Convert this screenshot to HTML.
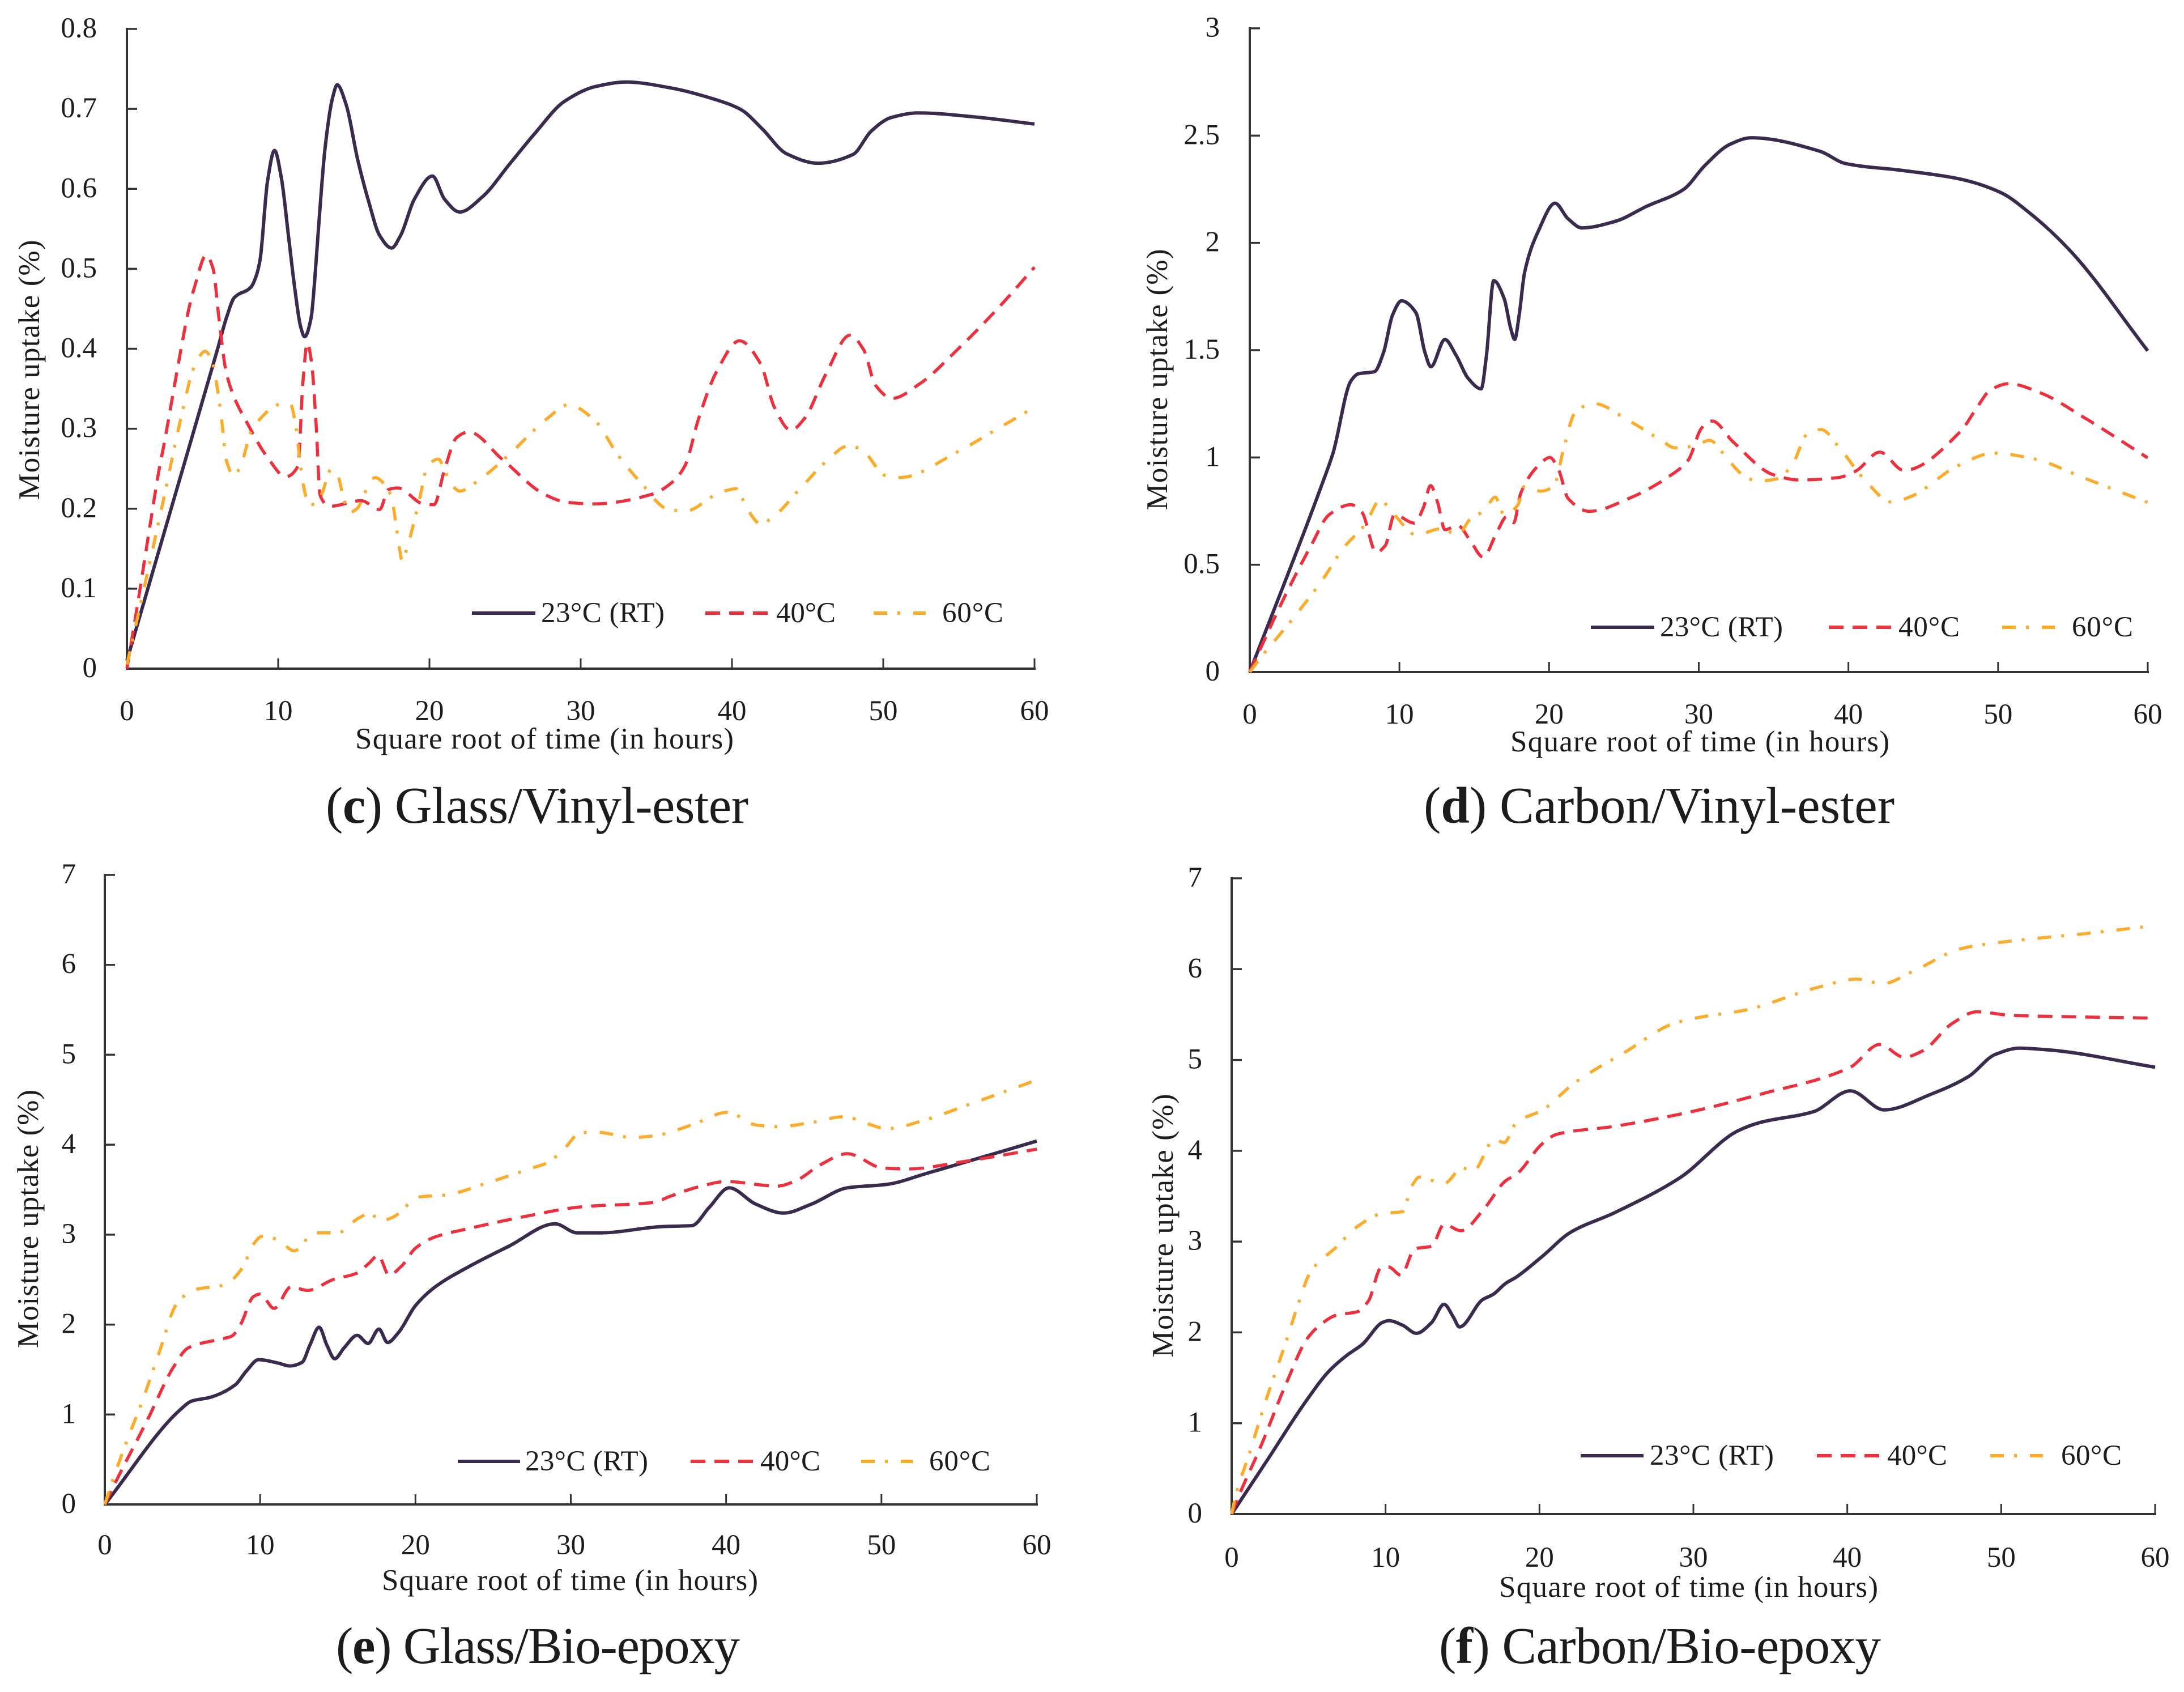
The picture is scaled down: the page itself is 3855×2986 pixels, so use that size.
<!DOCTYPE html>
<html>
<head>
<meta charset="utf-8">
<title>Moisture uptake charts</title>
<style>
html,body{margin:0;padding:0;background:#fff;}
svg{display:block;}
text{font-family:"Liberation Serif",serif;fill:#1c1c1c;}
.tick{font-size:51px;}
.axis-title{font-size:53px;}
.legend-text{font-size:51px;}
.caption{font-size:91px;}
</style>
</head>
<body>
<svg id="figure" xmlns="http://www.w3.org/2000/svg" width="3855" height="2986" viewBox="0 0 3855 2986">
<rect x="0" y="0" width="3855" height="2986" fill="#ffffff"/>

<g id="panel-c"></g>
<g id="panel-d"></g>
<g id="panel-e"></g>
<g id="panel-f"></g>

<text class="axis-title" transform="translate(69,653) rotate(-90)" text-anchor="middle" textLength="459" lengthAdjust="spacing">Moisture uptake (%)</text>
<text class="axis-title" transform="translate(2060,670) rotate(-90)" text-anchor="middle" textLength="461" lengthAdjust="spacing">Moisture uptake (%)</text>
<text class="axis-title" transform="translate(67,2151) rotate(-90)" text-anchor="middle" textLength="456" lengthAdjust="spacing">Moisture uptake (%)</text>
<text class="axis-title" transform="translate(2070,2163) rotate(-90)" text-anchor="middle" textLength="465" lengthAdjust="spacing">Moisture uptake (%)</text>

<text class="axis-title" x="627" y="1321" textLength="668" lengthAdjust="spacing">Square root of time (in hours)</text>
<text class="axis-title" x="2666" y="1326" textLength="669" lengthAdjust="spacing">Square root of time (in hours)</text>
<text class="axis-title" x="674" y="2806" textLength="664" lengthAdjust="spacing">Square root of time (in hours)</text>
<text class="axis-title" x="2646" y="2818" textLength="669" lengthAdjust="spacing">Square root of time (in hours)</text>

<text class="caption" x="575" y="1452" textLength="746" lengthAdjust="spacing">(<tspan font-weight="bold">c</tspan>) Glass/Vinyl-ester</text>
<text class="caption" x="2513" y="1452" textLength="831" lengthAdjust="spacing">(<tspan font-weight="bold">d</tspan>) Carbon/Vinyl-ester</text>
<text class="caption" x="593" y="2935" textLength="713" lengthAdjust="spacing">(<tspan font-weight="bold">e</tspan>) Glass/Bio-epoxy</text>
<text class="caption" x="2540" y="2935" textLength="780" lengthAdjust="spacing">(<tspan font-weight="bold">f</tspan>) Carbon/Bio-epoxy</text>

<g>
<line x1="833" x2="945" y1="1082" y2="1082" stroke="#3a2a4d" stroke-width="6"/>
<text class="legend-text" x="955" y="1098" textLength="218" lengthAdjust="spacing">23°C (RT)</text>
<line x1="1245" x2="1355" y1="1082" y2="1082" stroke="#ee2f3e" stroke-width="6" stroke-dasharray="26 16"/>
<text class="legend-text" x="1370" y="1098" textLength="105" lengthAdjust="spacing">40°C</text>
<line x1="1542" x2="1634" y1="1082" y2="1082" stroke="#fdab2b" stroke-width="6" stroke-dasharray="24 18 5 23"/>
<text class="legend-text" x="1663" y="1098" textLength="108" lengthAdjust="spacing">60°C</text>
</g>
<g>
<line x1="2808" x2="2920" y1="1107" y2="1107" stroke="#3a2a4d" stroke-width="6"/>
<text class="legend-text" x="2930" y="1123" textLength="217" lengthAdjust="spacing">23°C (RT)</text>
<line x1="3228" x2="3338" y1="1107" y2="1107" stroke="#ee2f3e" stroke-width="6" stroke-dasharray="26 16"/>
<text class="legend-text" x="3351" y="1123" textLength="108" lengthAdjust="spacing">40°C</text>
<line x1="3534" x2="3627" y1="1107" y2="1107" stroke="#fdab2b" stroke-width="6" stroke-dasharray="24 18 5 23"/>
<text class="legend-text" x="3657" y="1123" textLength="108" lengthAdjust="spacing">60°C</text>
</g>
<g>
<line x1="808" x2="918" y1="2579" y2="2579" stroke="#3a2a4d" stroke-width="6"/>
<text class="legend-text" x="927" y="2595" textLength="217" lengthAdjust="spacing">23°C (RT)</text>
<line x1="1219" x2="1329" y1="2579" y2="2579" stroke="#ee2f3e" stroke-width="6" stroke-dasharray="26 16"/>
<text class="legend-text" x="1342" y="2595" textLength="106" lengthAdjust="spacing">40°C</text>
<line x1="1520" x2="1611" y1="2579" y2="2579" stroke="#fdab2b" stroke-width="6" stroke-dasharray="24 18 5 23"/>
<text class="legend-text" x="1640" y="2595" textLength="108" lengthAdjust="spacing">60°C</text>
</g>
<g>
<line x1="2790" x2="2901" y1="2569" y2="2569" stroke="#3a2a4d" stroke-width="6"/>
<text class="legend-text" x="2912" y="2585" textLength="219" lengthAdjust="spacing">23°C (RT)</text>
<line x1="3207" x2="3319" y1="2569" y2="2569" stroke="#ee2f3e" stroke-width="6" stroke-dasharray="26 16"/>
<text class="legend-text" x="3331" y="2585" textLength="106" lengthAdjust="spacing">40°C</text>
<line x1="3513" x2="3606" y1="2569" y2="2569" stroke="#fdab2b" stroke-width="6" stroke-dasharray="24 18 5 23"/>
<text class="legend-text" x="3638" y="2585" textLength="107" lengthAdjust="spacing">60°C</text>
</g>
</svg>

<script>
// Shared x tick labels
var xTickValues = [0, 10, 20, 30, 40, 50, 60];

// Panel c: Glass/Vinyl-ester
var cYTicks = [0, 0.1, 0.2, 0.3, 0.4, 0.5, 0.6, 0.7, 0.8];
var cRtX = [0, 3, 6, 6.6, 7.1, 8.2, 8.58, 8.8, 9.3, 9.76, 10.2, 10.7, 11.1, 11.48, 11.75, 12.18, 12.4, 12.65, 13.1, 13.6, 13.9, 14.5, 15.25, 16, 16.7, 17.5, 18.1, 19, 20.2, 21, 22, 23.5, 25.3, 27, 28.9, 31, 33, 36, 38.5, 40.6, 42, 43.6, 45.7, 48, 49.2, 50.5, 52.3, 56, 60];
var cRtY = [0.01, 0.205, 0.4, 0.44, 0.464, 0.477, 0.493, 0.511, 0.61, 0.648, 0.615, 0.538, 0.475, 0.428, 0.415, 0.439, 0.482, 0.547, 0.651, 0.714, 0.73, 0.705, 0.637, 0.583, 0.542, 0.526, 0.542, 0.587, 0.616, 0.587, 0.571, 0.59, 0.631, 0.67, 0.709, 0.728, 0.7335, 0.726, 0.714, 0.699, 0.675, 0.644, 0.632, 0.643, 0.672, 0.689, 0.695, 0.69, 0.681];
var c40X = [0, 0.77, 1.61, 2.1, 2.44, 2.96, 3.53, 4.13, 4.5, 5.24, 5.7, 6.08, 6.56, 7.1, 7.87, 9.3, 10.5, 11.3, 11.65, 11.93, 12.2, 12.5, 12.77, 13.4, 15.5, 16.7, 17.3, 17.9, 19.6, 20.3, 21, 21.8, 22.6, 24.8, 27.7, 29.1, 30.9, 34.7, 36.1, 36.9, 37.8, 39, 40.5, 41.9, 42.8, 43.9, 44.8, 46.2, 47.8, 48.7, 49.5, 50.6, 52.4, 54.8, 57.7, 60];
var c40Y = [0, 0.088, 0.189, 0.246, 0.279, 0.334, 0.395, 0.453, 0.479, 0.517, 0.5, 0.439, 0.371, 0.339, 0.31, 0.264, 0.24, 0.253, 0.362, 0.407, 0.384, 0.308, 0.217, 0.203, 0.21, 0.199, 0.224, 0.226, 0.206, 0.205, 0.249, 0.289, 0.296, 0.262, 0.217, 0.208, 0.206, 0.218, 0.234, 0.254, 0.313, 0.372, 0.41, 0.381, 0.327, 0.298, 0.313, 0.368, 0.417, 0.399, 0.354, 0.338, 0.356, 0.397, 0.453, 0.502];
var c60X = [0, 1.2, 2.44, 3.53, 4.47, 5.18, 5.63, 5.97, 6.3, 6.57, 7.06, 7.47, 8.22, 8.74, 10, 10.8, 11.15, 11.4, 11.67, 12, 12.5, 12.9, 13.5, 13.9, 14.3, 14.7, 15.2, 16, 16.4, 17.1, 17.5, 17.9, 18.2, 18.5, 18.95, 19.3, 19.9, 20.6, 21, 21.4, 22, 23, 24.1, 25.4, 27.8, 29.2, 30.9, 32.5, 34, 35.7, 36.9, 39.3, 40.3, 41, 41.9, 42.8, 44.5, 46.4, 47.6, 48.4, 50.2, 51.1, 54.9, 57.2, 60];
var c60Y = [0.005, 0.106, 0.213, 0.31, 0.378, 0.397, 0.384, 0.352, 0.305, 0.261, 0.242, 0.251, 0.297, 0.311, 0.33, 0.331, 0.305, 0.266, 0.229, 0.207, 0.205, 0.219, 0.249, 0.244, 0.215, 0.195, 0.2, 0.23, 0.239, 0.229, 0.213, 0.166, 0.135, 0.15, 0.181, 0.208, 0.254, 0.262, 0.248, 0.232, 0.222, 0.232, 0.248, 0.27, 0.313, 0.33, 0.311, 0.266, 0.232, 0.2, 0.197, 0.221, 0.225, 0.2, 0.181, 0.191, 0.225, 0.262, 0.278, 0.276, 0.241, 0.239, 0.271, 0.296, 0.327];

// Panel d: Carbon/Vinyl-ester
var dYTicks = [0, 0.5, 1, 1.5, 2, 2.5, 3];
var dRtX = [0, 4.83, 5.56, 6.76, 7.25, 8.33, 8.94, 9.54, 10.14, 11.1, 11.7, 12.1, 13.04, 13.77, 14.6, 15.46, 15.8, 16.3, 17, 17.44, 17.7, 18, 18.36, 19.3, 20.4, 21.26, 22.2, 24.4, 26.5, 29, 30.4, 32.1, 33.5, 38.1, 39.8, 43.7, 47.3, 50.2, 52.1, 54.8, 60];
var dRtY = [0, 0.876, 1.02, 1.357, 1.39, 1.4, 1.49, 1.664, 1.73, 1.675, 1.49, 1.423, 1.55, 1.478, 1.368, 1.32, 1.467, 1.824, 1.74, 1.6, 1.55, 1.664, 1.861, 2.058, 2.185, 2.113, 2.07, 2.1, 2.17, 2.25, 2.36, 2.46, 2.49, 2.427, 2.37, 2.337, 2.3, 2.234, 2.14, 1.965, 1.497];
var d40X = [0, 2.17, 4.1, 5.3, 6.76, 7.49, 8.45, 9.06, 9.66, 11, 11.6, 12.08, 12.56, 13.04, 13.9, 14.73, 15.58, 16.55, 17.15, 17.63, 18.1, 19.3, 20.05, 20.65, 21.26, 22.7, 25.36, 28, 29.3, 30.2, 30.9, 32.3, 35, 36.7, 39.3, 40.5, 42.1, 43.7, 47.5, 48.5, 49.5, 50.7, 52.9, 55.7, 60];
var d40Y = [0, 0.328, 0.59, 0.733, 0.78, 0.745, 0.558, 0.59, 0.733, 0.694, 0.766, 0.869, 0.788, 0.663, 0.683, 0.613, 0.536, 0.657, 0.723, 0.696, 0.832, 0.963, 1, 0.94, 0.81, 0.749, 0.81, 0.911, 0.988, 1.138, 1.17, 1.072, 0.919, 0.895, 0.906, 0.937, 1.025, 0.94, 1.122, 1.223, 1.315, 1.344, 1.299, 1.188, 0.998];
var d60X = [0, 0.97, 2.66, 4.83, 6.28, 7.73, 8.7, 9.66, 11.1, 12.8, 13.9, 14.7, 15.7, 16.4, 17, 17.9, 18.36, 19.44, 20.3, 21, 21.7, 22.95, 25.36, 27.5, 28.4, 29.8, 30.7, 31.9, 32.8, 33.9, 35.2, 36.2, 37.3, 38.2, 39.3, 41, 42.9, 44.2, 47.3, 49.7, 52.3, 55.8, 60];
var d60Y = [0, 0.088, 0.23, 0.427, 0.58, 0.69, 0.8, 0.733, 0.64, 0.668, 0.64, 0.71, 0.755, 0.815, 0.733, 0.777, 0.865, 0.843, 0.865, 1.05, 1.204, 1.252, 1.17, 1.08, 1.045, 1.054, 1.08, 0.995, 0.927, 0.89, 0.9, 0.961, 1.114, 1.13, 1.054, 0.903, 0.792, 0.819, 0.961, 1.02, 0.995, 0.903, 0.79];

// Panel e: Glass/Bio-epoxy
var eYTicks = [0, 1, 2, 3, 4, 5, 6, 7];
var eRtX = [0, 4.9, 5.6, 6.76, 8.4, 9.1, 9.9, 11.2, 11.9, 12.7, 13.2, 13.8, 14.3, 14.8, 15.4, 16.25, 16.95, 17.65, 18.2, 18.9, 20, 21.2, 23.5, 26, 29, 30.4, 31.9, 35.9, 37.8, 38.9, 40.2, 41.9, 43.7, 45.5, 47.8, 50.4, 52.9, 60];
var eRtY = [0, 1.06, 1.15, 1.19, 1.33, 1.48, 1.61, 1.57, 1.54, 1.58, 1.77, 1.97, 1.77, 1.62, 1.74, 1.88, 1.79, 1.95, 1.8, 1.91, 2.21, 2.41, 2.65, 2.87, 3.12, 3.02, 3.02, 3.09, 3.1, 3.3, 3.52, 3.34, 3.24, 3.34, 3.52, 3.56, 3.68, 4.04];
var e40X = [0, 0.7, 2.8, 4.43, 5.36, 7.2, 8.16, 8.74, 9.56, 10, 10.9, 12, 13.05, 14.7, 16.2, 17, 17.6, 18.3, 19.1, 20, 21.2, 23.5, 27, 30.7, 35.4, 36.3, 38.2, 40, 43.3, 44.5, 46.1, 47.8, 50.1, 51.7, 55.2, 60];
var e40Y = [0, 0.25, 0.96, 1.53, 1.74, 1.83, 1.87, 2, 2.31, 2.34, 2.18, 2.42, 2.38, 2.5, 2.57, 2.68, 2.77, 2.55, 2.65, 2.85, 2.97, 3.07, 3.2, 3.31, 3.36, 3.42, 3.53, 3.59, 3.54, 3.6, 3.78, 3.9, 3.74, 3.73, 3.81, 3.95];
var e60X = [0, 0.47, 1.28, 2.56, 3.5, 4.66, 5.83, 7.7, 8.86, 9.56, 10.1, 11.07, 12.2, 13.5, 15, 16.3, 17.1, 17.7, 18.5, 20.3, 21.9, 24.7, 27.5, 28.5, 29.6, 30.6, 31.6, 34, 35.4, 37.8, 40.1, 41.9, 43.3, 45.6, 47.5, 50.4, 52.9, 55.2, 60];
var e60Y = [0, 0.25, 0.64, 1.22, 1.69, 2.24, 2.39, 2.44, 2.63, 2.89, 2.98, 2.95, 2.82, 3.02, 3.02, 3.18, 3.24, 3.15, 3.19, 3.42, 3.44, 3.58, 3.74, 3.8, 3.96, 4.13, 4.14, 4.08, 4.1, 4.22, 4.36, 4.22, 4.2, 4.25, 4.31, 4.18, 4.28, 4.42, 4.72];

// Panel f: Carbon/Bio-epoxy
var fYTicks = [0, 1, 2, 3, 4, 5, 6, 7];
var fRtX = [0, 2.3, 4.9, 6.3, 7.5, 8.5, 9.8, 10.2, 11.1, 12, 13, 13.8, 14.4, 14.8, 16.3, 17, 17.8, 18.5, 20.2, 22, 24.9, 29.1, 32.9, 34.3, 37.8, 40.2, 42.4, 45.4, 47.9, 49.6, 51.2, 53.1, 60];
var fRtY = [0, 0.59, 1.26, 1.57, 1.75, 1.87, 2.11, 2.13, 2.08, 1.99, 2.11, 2.31, 2.17, 2.06, 2.36, 2.42, 2.54, 2.61, 2.84, 3.1, 3.32, 3.7, 4.22, 4.31, 4.43, 4.66, 4.45, 4.62, 4.82, 5.06, 5.13, 5.11, 4.92];
var f40X = [0, 0.54, 1.83, 3.5, 4.9, 5.6, 6.8, 8.2, 8.9, 9.7, 10.2, 11, 11.9, 13, 13.8, 14.9, 16.4, 17.8, 18.5, 20.2, 21.1, 24.9, 29.6, 34.3, 40.2, 42.1, 43.7, 44.9, 46.8, 48.4, 50.7, 53.1, 60];
var f40Y = [0, 0.23, 0.72, 1.42, 1.93, 2.06, 2.19, 2.23, 2.35, 2.71, 2.72, 2.63, 2.92, 2.95, 3.19, 3.12, 3.36, 3.67, 3.74, 4.08, 4.18, 4.27, 4.42, 4.62, 4.92, 5.17, 5.03, 5.1, 5.4, 5.53, 5.49, 5.48, 5.46];
var f60X = [0, 0.3, 1.1, 2.3, 3.5, 4.4, 5.1, 6.8, 8.2, 9.8, 11.1, 11.7, 12.2, 13.8, 15, 15.7, 16.4, 17, 17.7, 18.5, 20.2, 22.3, 25.6, 28.7, 30.1, 33.4, 38.1, 40.6, 42.3, 44.2, 47.5, 50.7, 55.4, 60];
var f60Y = [0, 0.23, 0.64, 1.29, 1.88, 2.35, 2.66, 2.94, 3.17, 3.31, 3.33, 3.61, 3.71, 3.64, 3.81, 3.77, 3.95, 4.13, 4.09, 4.31, 4.45, 4.75, 5.09, 5.4, 5.46, 5.55, 5.8, 5.89, 5.84, 5.97, 6.23, 6.31, 6.39, 6.48];

var SVG_NS = 'http://www.w3.org/2000/svg';

function make(tag, parent, attrs) {
  var el = document.createElementNS(SVG_NS, tag);
  for (var k in attrs) { el.setAttribute(k, attrs[k]); }
  parent.appendChild(el);
  return el;
}

// Monotone cubic interpolation in x: rounded peaks with no loops or overshoot.
function smoothPath(pts) {
  var n = pts.length, secant = [], slope = [], i;
  for (i = 0; i < n - 1; i++) {
    secant.push((pts[i + 1][1] - pts[i][1]) / (pts[i + 1][0] - pts[i][0]));
  }
  slope[0] = secant[0];
  slope[n - 1] = secant[n - 2];
  for (i = 1; i < n - 1; i++) {
    if (secant[i - 1] * secant[i] <= 0) {
      slope[i] = 0;
    } else {
      var h0 = pts[i][0] - pts[i - 1][0], h1 = pts[i + 1][0] - pts[i][0];
      var w1 = 2 * h1 + h0, w2 = h1 + 2 * h0;
      slope[i] = (w1 + w2) / (w1 / secant[i - 1] + w2 / secant[i]);
    }
  }
  var d = 'M' + pts[0][0].toFixed(1) + ' ' + pts[0][1].toFixed(1);
  for (i = 0; i < n - 1; i++) {
    var dx = (pts[i + 1][0] - pts[i][0]) / 3;
    d += 'C' + (pts[i][0] + dx).toFixed(1) + ' ' + (pts[i][1] + slope[i] * dx).toFixed(1) + ' ' +
         (pts[i + 1][0] - dx).toFixed(1) + ' ' + (pts[i + 1][1] - slope[i + 1] * dx).toFixed(1) + ' ' +
         pts[i + 1][0].toFixed(1) + ' ' + pts[i + 1][1].toFixed(1);
  }
  return d;
}

function drawPanel(cfg) {
  var g = document.getElementById(cfg.id);
  var yMax = cfg.yTicks[cfg.yTicks.length - 1];
  var xScale = function (v) { return cfg.x0 + (cfg.x60 - cfg.x0) * v / 60; };
  var yScale = function (v) { return cfg.y0 - (cfg.y0 - cfg.yTop) * v / yMax; };

  var yAxis = make('line', g, { x1: cfg.x0, x2: cfg.x0, y1: yScale(yMax) - 2, y2: cfg.y0 + 2, stroke: '#333333', 'stroke-width': 4 });
  
  
  var xAxis = make('line', g, { x1: cfg.x0 - 2, x2: cfg.x60 + 2, y1: cfg.y0, y2: cfg.y0, stroke: '#333333', 'stroke-width': 4 });
  
  

  cfg.yTicks.forEach(function (v) {
    var y = yScale(v);
    if (v !== 0) {
      var t = make('line', g, { x1: cfg.x0, x2: cfg.x0 + 18, y1: y, y2: y, stroke: '#333333', 'stroke-width': 3.5 });
      
      
    }
    var label = make('text', g, { x: cfg.yLabelRight, y: y + 15, 'text-anchor': 'end', 'class': 'tick' });
    label.textContent = String(v);
    
    
  });

  xTickValues.forEach(function (v) {
    var x = xScale(v);
    if (v !== 0) {
      var t = make('line', g, { x1: x, x2: x, y1: cfg.y0, y2: cfg.y0 - 18, stroke: '#333333', 'stroke-width': 3 });
      
      
    }
    var label = make('text', g, { x: x, y: cfg.xLabelY, 'text-anchor': 'middle', 'class': 'tick' });
    label.textContent = String(v);
    
    
  });

  cfg.series.forEach(function (s) {
    var pts = s.x.map(function (xv, i) { return [xScale(xv), yScale(s.y[i])]; });
    var attrs = { d: smoothPath(pts), fill: 'none', stroke: s.color, 'stroke-width': s.width, 'stroke-linejoin': 'round' };
    if (s.dash) { attrs['stroke-dasharray'] = s.dash; }
    var path = make('path', g, attrs);
    
    
  });
}

var RT_STYLE = { color: '#3a2a4d', width: 6, dash: null, name: 'series-23c-rt' };
var S40_STYLE = { color: '#ee2f3e', width: 5.5, dash: '26 16', name: 'series-40c' };
var S60_STYLE = { color: '#fdab2b', width: 5.5, dash: '24 18 5 23', name: 'series-60c' };

function triple(rtX, rtY, aX, aY, bX, bY) {
  return [
    { x: rtX, y: rtY, color: RT_STYLE.color, width: RT_STYLE.width, dash: RT_STYLE.dash, name: RT_STYLE.name },
    { x: aX, y: aY, color: S40_STYLE.color, width: S40_STYLE.width, dash: S40_STYLE.dash, name: S40_STYLE.name },
    { x: bX, y: bY, color: S60_STYLE.color, width: S60_STYLE.width, dash: S60_STYLE.dash, name: S60_STYLE.name }
  ];
}

drawPanel({ id: 'panel-c', x0: 224, x60: 1826, y0: 1180, yTop: 51, yLabelRight: 171, xLabelY: 1271, yTicks: cYTicks, series: triple(cRtX, cRtY, c40X, c40Y, c60X, c60Y) });
drawPanel({ id: 'panel-d', x0: 2206, x60: 3791, y0: 1186, yTop: 50, yLabelRight: 2153, xLabelY: 1277, yTicks: dYTicks, series: triple(dRtX, dRtY, d40X, d40Y, d60X, d60Y) });
drawPanel({ id: 'panel-e', x0: 185, x60: 1830, y0: 2655, yTop: 1544, yLabelRight: 134, xLabelY: 2743, yTicks: eYTicks, series: triple(eRtX, eRtY, e40X, e40Y, e60X, e60Y) });
drawPanel({ id: 'panel-f', x0: 2174, x60: 3804, y0: 2672, yTop: 1550, yLabelRight: 2122, xLabelY: 2765, yTicks: fYTicks, series: triple(fRtX, fRtY, f40X, f40Y, f60X, f60Y) });
</script>
</body>
</html>
